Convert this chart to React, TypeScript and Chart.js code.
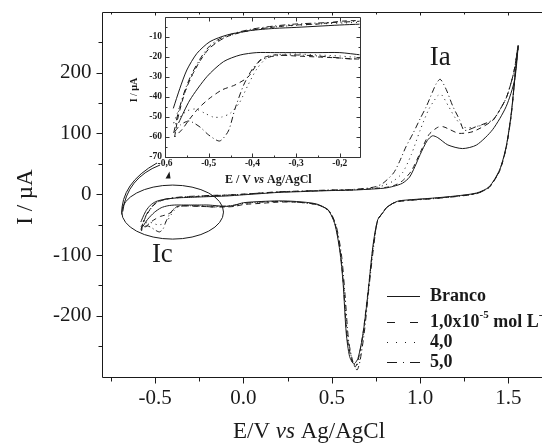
import React, { useEffect, useRef } from "react";
import { Chart, registerables } from "chart.js";
Chart.register(...registerables);

const FONT = "'Liberation Serif', 'Times New Roman', serif";
const INK = "#1a1a1a";

// ---------- main axes ----------
const X_MIN = -0.803;
const X_MAX = 1.69;
const Y_MIN = -300;
const Y_MAX = 300;
const X_TICKS = [-0.5, 0, 0.5, 1.0, 1.5];
const X_MINOR = [-0.75, -0.25, 0.25, 0.75, 1.25];
const Y_TICKS = [-200, -100, 0, 100, 200];
const Y_MINOR = [-250, -150, -50, 50, 150, 250];

// ---------- inset axes ----------
const IN_X_MIN = -0.6;
const IN_X_MAX = -0.155;
const IN_Y_MIN = -70;
const IN_Y_MAX = 0;
const IN_X_TICKS = [-0.6, -0.5, -0.4, -0.3, -0.2];
const IN_X_MINOR = [-0.55, -0.45, -0.35, -0.25];
const IN_Y_TICKS = [-70, -60, -50, -40, -30, -20, -10];
const IN_Y_MINOR = [-65, -55, -45, -35, -25, -15, -5];

// ---------- series (E / V, I / uA) ----------
// Branco
const BRANCO_FWD_E = [-0.581, -0.566, -0.55, -0.527, -0.497, -0.458, -0.405, -0.35, -0.3, -0.25, -0.2, -0.1, 0, 0.1, 0.2, 0.3, 0.4, 0.5, 0.6, 0.7, 0.8, 0.85, 0.9, 0.94, 0.97, 1.0, 1.04, 1.07, 1.1, 1.157, 1.24, 1.32, 1.41, 1.487, 1.535, 1.555];
const BRANCO_FWD_I = [-45.7, -35.7, -26.5, -18.2, -12.3, -9, -6.8, -5.7, -5.2, -4.6, -4, -3, -1, 1, 3, 4, 5, 6, 6.5, 8, 10, 13, 18, 28, 45, 65, 88, 96, 93, 81, 75, 81, 106, 144, 188, 243];
const BRANCO_REV_E = [1.544, 1.516, 1.487, 1.45, 1.39, 1.32, 1.2, 1.07, 0.95, 0.88, 0.846, 0.81, 0.79, 0.76, 0.733, 0.705, 0.677, 0.648, 0.625, 0.601, 0.582, 0.564, 0.545, 0.516, 0.479, 0.413, 0.3, 0.2, 0.1, 0, -0.05, -0.1, -0.15, -0.2, -0.25, -0.3, -0.35, -0.39, -0.428, -0.466, -0.504, -0.543, -0.569];
const BRANCO_REV_I = [215, 133, 78, 40, 12, 2, -3, -6.5, -9, -11, -15, -22, -30, -42, -85, -163, -229, -270, -279, -267, -229, -146, -92, -48, -26, -16, -12, -11, -12, -14, -18, -20, -19, -17.8, -17.8, -17.8, -17.8, -17.8, -19, -22.3, -29.8, -41.5, -53];

// 1,0x10^-5 mol L^-1
const C10_FWD_E = [-0.578, -0.57, -0.555, -0.54, -0.52, -0.5, -0.48, -0.46, -0.44, -0.4, -0.35, -0.3, -0.25, -0.19, -0.1, 0, 0.1, 0.2, 0.3, 0.4, 0.5, 0.6, 0.7, 0.8, 0.85, 0.9, 0.95, 1.0, 1.05, 1.1, 1.13, 1.17, 1.22, 1.3, 1.41, 1.45, 1.49, 1.53, 1.555];
const C10_FWD_I = [-60, -50, -38, -30, -22, -16, -12.5, -10, -8.5, -6.5, -5, -4, -3.5, -2, -1.5, 0, 2, 3.5, 4.5, 5.5, 6.5, 7, 8.5, 11, 14, 22, 38, 68, 98, 110, 111, 106, 100, 103, 121, 138, 160, 200, 245];
const C10_REV_E = [1.544, 1.516, 1.487, 1.45, 1.39, 1.32, 1.2, 1.07, 0.95, 0.88, 0.846, 0.81, 0.79, 0.76, 0.733, 0.705, 0.677, 0.65, 0.632, 0.61, 0.585, 0.566, 0.547, 0.518, 0.48, 0.413, 0.3, 0.2, 0.1, 0, -0.05, -0.1, -0.16, -0.2, -0.25, -0.3, -0.35, -0.38, -0.41, -0.44, -0.47, -0.5, -0.525, -0.547, -0.56, -0.578];
const C10_REV_I = [215, 130, 76, 38, 11, 1.5, -3.5, -7, -9.5, -11.5, -15, -22, -30, -43, -88, -160, -228, -272, -284, -270, -230, -148, -92, -48, -26, -17, -13, -13, -15, -17, -20, -21, -21, -20.5, -20, -19.5, -19, -21, -30, -34, -36.5, -41, -46, -52, -56, -60];

// 4,0
const C40_FWD_E = [-0.58, -0.565, -0.55, -0.535, -0.52, -0.5, -0.48, -0.46, -0.44, -0.4, -0.35, -0.3, -0.25, -0.19, -0.1, 0, 0.1, 0.2, 0.3, 0.4, 0.5, 0.6, 0.7, 0.75, 0.8, 0.85, 0.9, 0.95, 1.0, 1.05, 1.1, 1.12, 1.16, 1.2, 1.25, 1.32, 1.41, 1.45, 1.49, 1.53, 1.555];
const C40_FWD_I = [-53, -44, -35, -28, -22, -16, -12, -10, -8.5, -6.5, -5, -4.2, -3.5, -3, -2, -0.5, 1.5, 3.5, 4.5, 5.5, 6.5, 7, 9, 11, 15, 22, 35, 65, 105, 140, 162, 164, 145, 125, 110, 111, 121, 138, 160, 200, 242];
const C40_REV_E = [1.544, 1.516, 1.487, 1.45, 1.39, 1.32, 1.2, 1.07, 0.95, 0.88, 0.846, 0.81, 0.79, 0.76, 0.735, 0.707, 0.68, 0.655, 0.637, 0.615, 0.59, 0.57, 0.55, 0.52, 0.48, 0.413, 0.3, 0.2, 0.1, 0, -0.05, -0.1, -0.17, -0.2, -0.25, -0.3, -0.35, -0.37, -0.39, -0.41, -0.43, -0.45, -0.47, -0.49, -0.51, -0.53, -0.55, -0.57, -0.58];
const C40_REV_I = [213, 131, 77, 39, 11.5, 1.5, -3.5, -7, -9.5, -11.5, -15, -22, -30, -42, -86, -158, -226, -272, -283, -272, -235, -160, -98, -50, -27, -17, -13, -12, -13, -15, -19, -20, -20, -19.5, -19, -18.5, -19, -21, -26, -34, -43, -48, -50, -50, -48, -46, -47, -51, -53];

// 5,0
const C50_FWD_E = [-0.58, -0.57, -0.555, -0.54, -0.52, -0.5, -0.48, -0.46, -0.44, -0.4, -0.35, -0.3, -0.25, -0.19, -0.1, 0, 0.1, 0.2, 0.3, 0.4, 0.5, 0.6, 0.7, 0.75, 0.79, 0.85, 0.884, 0.92, 0.96, 1.0, 1.035, 1.07, 1.092, 1.114, 1.148, 1.186, 1.224, 1.25, 1.318, 1.41, 1.45, 1.49, 1.53, 1.555];
const C50_FWD_I = [-58, -48, -37, -29, -21, -15, -11.5, -9.5, -8, -6, -4.5, -3.5, -3, -2.5, -1.5, 0, 2, 4, 5, 6, 7, 7.5, 10, 12.5, 18, 35, 54, 78, 100, 124, 144, 168, 182, 189, 172, 144, 122, 105, 111, 122, 138, 160, 200, 244];
const C50_REV_E = [1.544, 1.516, 1.487, 1.45, 1.39, 1.32, 1.2, 1.07, 0.95, 0.88, 0.846, 0.81, 0.79, 0.76, 0.738, 0.71, 0.685, 0.66, 0.643, 0.62, 0.595, 0.575, 0.555, 0.525, 0.485, 0.413, 0.3, 0.2, 0.1, 0, -0.05, -0.1, -0.17, -0.2, -0.25, -0.3, -0.35, -0.38, -0.4, -0.42, -0.44, -0.455, -0.475, -0.5, -0.52, -0.545, -0.565, -0.58];
const C50_REV_I = [214, 132, 77, 39, 11, 1, -4, -7.5, -10, -12, -15.5, -22, -30, -42, -84, -155, -225, -274, -289, -276, -240, -165, -100, -52, -27, -17, -13, -12, -13, -15, -18, -19.5, -21, -20.5, -19.5, -19, -19.5, -21.5, -26, -34, -46, -57, -62, -59, -55, -52, -54, -58];

const LEGEND_LABELS = ["Branco", "1,0x10", "4,0", "5,0"];
const PEAK_LABELS = ["Ia", "Ic"];
const PEAK_LABEL_POS = [
  { x: 1.114, y: 224 },
  { x: -0.459, y: -100 },
];
const ELLIPSE = { cx: -0.401, cy: -29.4, rx: 0.288, ry: 44.4 };

const CURVE_DASH: number[][] = [[], [5, 4], [1, 4], [6, 3, 1, 3]];
const LEGEND_DASH: number[][] = [[], [8, 15], [1, 8], [10, 6, 1, 6]];

function pts(e1: number[], i1: number[], e2: number[], i2: number[]) {
  const out: { x: number; y: number }[] = [];
  const n1 = Math.min(e1.length, i1.length);
  for (let k = 0; k < n1; k++) out.push({ x: e1[k], y: i1[k] });
  const n2 = Math.min(e2.length, i2.length);
  for (let k = 0; k < n2; k++) out.push({ x: e2[k], y: i2[k] });
  return out;
}

function makeDatasets() {
  const series = [
    pts(BRANCO_FWD_E, BRANCO_FWD_I, BRANCO_REV_E, BRANCO_REV_I),
    pts(C10_FWD_E, C10_FWD_I, C10_REV_E, C10_REV_I),
    pts(C40_FWD_E, C40_FWD_I, C40_REV_E, C40_REV_I),
    pts(C50_FWD_E, C50_FWD_I, C50_REV_E, C50_REV_I),
  ];
  return series.map((data, k) => ({
    label: LEGEND_LABELS[k],
    data,
    showLine: true,
    borderColor: INK,
    borderWidth: 1,
    borderDash: CURVE_DASH[k],
    pointRadius: 0,
    tension: 0.25,
    fill: false,
  }));
}

const noPadX = (h: number) => (s: any) => {
  s.height = h;
  s.paddingLeft = 0;
  s.paddingRight = 0;
  s.paddingTop = 0;
  s.paddingBottom = 0;
};
const noPadY = (w: number) => (s: any) => {
  s.width = w;
  s.paddingLeft = 0;
  s.paddingRight = 0;
  s.paddingTop = 0;
  s.paddingBottom = 0;
};

const mainPlugin = {
  id: "mainDecor",
  afterDraw(chart: any) {
    const { ctx, chartArea: a, scales } = chart;
    const x = scales.x;
    const y = scales.y;
    ctx.save();
    ctx.strokeStyle = INK;
    ctx.fillStyle = INK;
    ctx.lineWidth = 1;
    ctx.setLineDash([]);
    const L = Math.round(a.left) + 0.5;
    const B = Math.round(a.bottom) + 0.5;
    const T = Math.round(a.top) + 0.5;
    ctx.beginPath();
    ctx.moveTo(L, T);
    ctx.lineTo(L, B);
    ctx.lineTo(a.right, B);
    ctx.moveTo(L, T);
    ctx.lineTo(a.right, T);
    X_TICKS.forEach((v) => {
      const p = Math.round(x.getPixelForValue(v)) + 0.5;
      ctx.moveTo(p, B);
      ctx.lineTo(p, B + 6);
      ctx.moveTo(p, T);
      ctx.lineTo(p, T + 3);
    });
    X_MINOR.forEach((v) => {
      const p = Math.round(x.getPixelForValue(v)) + 0.5;
      ctx.moveTo(p, B);
      ctx.lineTo(p, B + 4);
      ctx.moveTo(p, T);
      ctx.lineTo(p, T + 2);
    });
    Y_TICKS.forEach((v) => {
      const p = Math.round(y.getPixelForValue(v)) + 0.5;
      ctx.moveTo(L, p);
      ctx.lineTo(L - 6, p);
    });
    Y_MINOR.forEach((v) => {
      const p = Math.round(y.getPixelForValue(v)) + 0.5;
      ctx.moveTo(L, p);
      ctx.lineTo(L - 4, p);
    });
    ctx.stroke();

    // ellipse around Ic
    const cx = x.getPixelForValue(ELLIPSE.cx);
    const cy = y.getPixelForValue(ELLIPSE.cy);
    const rx = Math.abs(x.getPixelForValue(ELLIPSE.cx + ELLIPSE.rx) - cx);
    const ry = Math.abs(y.getPixelForValue(ELLIPSE.cy + ELLIPSE.ry) - cy);
    ctx.beginPath();
    ctx.ellipse(cx, cy, rx, ry, 0, 0, Math.PI * 2);
    ctx.stroke();
    // connectors to the inset
    const lx = cx - rx;
    ctx.beginPath();
    ctx.moveTo(lx, cy + 2.5);
    ctx.quadraticCurveTo(lx - 1, cy - 29, 157, 163);
    ctx.moveTo(lx + 1, cy - 0.5);
    ctx.quadraticCurveTo(lx + 5, cy - 34, 160, 165);
    ctx.stroke();
    ctx.beginPath();
    ctx.moveTo(165.5, 178.5);
    ctx.lineTo(170.5, 178.5);
    ctx.lineTo(169.5, 171.5);
    ctx.closePath();
    ctx.fill();

    // peak labels
    ctx.font = `27px ${FONT}`;
    ctx.textAlign = "center";
    ctx.textBaseline = "middle";
    PEAK_LABELS.forEach((t, k) => {
      ctx.fillText(t, x.getPixelForValue(PEAK_LABEL_POS[k].x), y.getPixelForValue(PEAK_LABEL_POS[k].y));
    });

    // axis titles
    ctx.font = `23px ${FONT}`;
    ctx.save();
    ctx.translate(26, 197);
    ctx.rotate(-Math.PI / 2);
    ctx.fillText("I / \u00b5A", 0, 0);
    ctx.restore();
    const p1 = "E/V ";
    const p2 = "vs";
    const p3 = " Ag/AgCl";
    ctx.font = `23px ${FONT}`;
    const w1 = ctx.measureText(p1).width;
    const w3 = ctx.measureText(p3).width;
    ctx.font = `italic 23px ${FONT}`;
    const w2 = ctx.measureText(p2).width;
    const sx = 309 - (w1 + w2 + w3) / 2;
    ctx.textAlign = "left";
    ctx.font = `23px ${FONT}`;
    ctx.fillText(p1, sx, 432);
    ctx.font = `italic 23px ${FONT}`;
    ctx.fillText(p2, sx + w1, 432);
    ctx.font = `23px ${FONT}`;
    ctx.fillText(p3, sx + w1 + w2, 432);

    // legend
    const rows = [296, 322, 342, 362];
    rows.forEach((ry0, k) => {
      ctx.setLineDash(LEGEND_DASH[k]);
      ctx.beginPath();
      ctx.moveTo(387, ry0 + 0.5);
      ctx.lineTo(420, ry0 + 0.5);
      ctx.stroke();
      ctx.setLineDash([]);
      ctx.font = `bold 18px ${FONT}`;
      ctx.textBaseline = "middle";
      ctx.fillText(LEGEND_LABELS[k], 430, ry0);
      if (k === 1) {
        let tx = 430 + ctx.measureText(LEGEND_LABELS[k]).width;
        ctx.font = `bold 11px ${FONT}`;
        ctx.fillText("-5", tx, ry0 - 7);
        tx += ctx.measureText("-5").width;
        ctx.font = `bold 18px ${FONT}`;
        ctx.fillText(" mol L", tx, ry0);
        tx += ctx.measureText(" mol L").width;
        ctx.font = `bold 11px ${FONT}`;
        ctx.fillText("-1", tx, ry0 - 7);
      }
    });
    ctx.restore();
  },
};

const insetPlugin = {
  id: "insetDecor",
  beforeDraw(chart: any) {
    const { ctx, chartArea: a } = chart;
    ctx.save();
    ctx.fillStyle = "#ffffff";
    ctx.fillRect(a.left, a.top, a.right - a.left, a.bottom - a.top);
    ctx.restore();
  },
  afterDraw(chart: any) {
    const { ctx, chartArea: a, scales } = chart;
    const x = scales.x;
    const y = scales.y;
    ctx.save();
    ctx.strokeStyle = "#333";
    ctx.fillStyle = INK;
    ctx.lineWidth = 1;
    ctx.setLineDash([]);
    const L = Math.round(a.left) + 0.5;
    const R = Math.round(a.right) + 0.5;
    const B = Math.round(a.bottom) + 0.5;
    const T = Math.round(a.top) + 0.5;
    ctx.beginPath();
    ctx.rect(L, T, R - L, B - T);
    IN_X_TICKS.forEach((v) => {
      const p = Math.round(x.getPixelForValue(v)) + 0.5;
      ctx.moveTo(p, B);
      ctx.lineTo(p, B - 4);
      ctx.moveTo(p, T);
      ctx.lineTo(p, T + 4);
    });
    IN_X_MINOR.forEach((v) => {
      const p = Math.round(x.getPixelForValue(v)) + 0.5;
      ctx.moveTo(p, B);
      ctx.lineTo(p, B - 2);
      ctx.moveTo(p, T);
      ctx.lineTo(p, T + 2);
    });
    IN_Y_TICKS.forEach((v) => {
      const p = Math.round(y.getPixelForValue(v)) + 0.5;
      ctx.moveTo(L, p);
      ctx.lineTo(L + 4, p);
      ctx.moveTo(R, p);
      ctx.lineTo(R - 4, p);
    });
    IN_Y_MINOR.forEach((v) => {
      const p = Math.round(y.getPixelForValue(v)) + 0.5;
      ctx.moveTo(L, p);
      ctx.lineTo(L + 2, p);
      ctx.moveTo(R, p);
      ctx.lineTo(R - 2, p);
    });
    ctx.stroke();

    ctx.textBaseline = "middle";
    ctx.textAlign = "center";
    ctx.font = `bold 10px ${FONT}`;
    ctx.save();
    ctx.translate(14.8, 90);
    ctx.rotate(-Math.PI / 2);
    ctx.fillText("I / \u00b5A", 0, 0);
    ctx.restore();

    const p1 = "E / V ";
    const p2 = "vs";
    const p3 = " Ag/AgCl";
    ctx.font = `bold 12px ${FONT}`;
    const w1 = ctx.measureText(p1).width;
    const w3 = ctx.measureText(p3).width;
    ctx.font = `italic bold 12px ${FONT}`;
    const w2 = ctx.measureText(p2).width;
    const sx = 148.3 - (w1 + w2 + w3) / 2;
    ctx.textAlign = "left";
    ctx.font = `bold 12px ${FONT}`;
    ctx.fillText(p1, sx, 180);
    ctx.font = `italic bold 12px ${FONT}`;
    ctx.fillText(p2, sx + w1, 180);
    ctx.font = `bold 12px ${FONT}`;
    ctx.fillText(p3, sx + w1 + w2, 180);
    ctx.restore();
  },
};

export default function App() {
  const mainRef = useRef<HTMLCanvasElement>(null);
  const insetRef = useRef<HTMLCanvasElement>(null);

  useEffect(() => {
    const main = new Chart(mainRef.current as HTMLCanvasElement, {
      type: "scatter",
      data: { datasets: makeDatasets() as any },
      options: {
        responsive: false,
        animation: false,
        events: [],
        layout: { padding: { left: 0, right: 0, top: 11.7, bottom: 0 } },
        plugins: { legend: { display: false }, tooltip: { enabled: false } },
        scales: {
          x: {
            type: "linear",
            min: X_MIN,
            max: X_MAX,
            afterBuildTicks: (s: any) => {
              s.ticks = X_TICKS.map((v) => ({ value: v }));
            },
            afterFit: noPadX(69.3),
            grid: { display: false, drawTicks: false },
            border: { display: false },
            ticks: {
              padding: 9,
              color: INK,
              autoSkip: false,
              maxRotation: 0,
              font: { family: FONT, size: 21 },
              callback: (v: any) => Number(v).toFixed(1),
            },
          },
          y: {
            type: "linear",
            min: Y_MIN,
            max: Y_MAX,
            afterBuildTicks: (s: any) => {
              s.ticks = Y_TICKS.map((v) => ({ value: v }));
            },
            afterFit: noPadY(101.6),
            grid: { display: false, drawTicks: false },
            border: { display: false },
            ticks: {
              padding: 10,
              color: INK,
              autoSkip: false,
              font: { family: FONT, size: 21 },
              callback: (v: any) => String(v),
            },
          },
        },
      },
      plugins: [mainPlugin],
    });

    const inset = new Chart(insetRef.current as HTMLCanvasElement, {
      type: "scatter",
      data: { datasets: makeDatasets() as any },
      options: {
        responsive: false,
        animation: false,
        events: [],
        layout: { padding: { left: 0, right: 10.5, top: 17, bottom: 0 } },
        plugins: { legend: { display: false }, tooltip: { enabled: false } },
        scales: {
          x: {
            type: "linear",
            min: IN_X_MIN,
            max: IN_X_MAX,
            afterBuildTicks: (s: any) => {
              s.ticks = IN_X_TICKS.map((v) => ({ value: v }));
            },
            afterFit: noPadX(33),
            grid: { display: false, drawTicks: false },
            border: { display: false },
            ticks: {
              padding: 1,
              color: INK,
              autoSkip: false,
              maxRotation: 0,
              font: { family: FONT, size: 9.5, weight: "bold" },
              callback: (v: any) => Number(v).toFixed(1).replace(".", ","),
            },
          },
          y: {
            type: "linear",
            min: IN_Y_MIN,
            max: IN_Y_MAX,
            afterBuildTicks: (s: any) => {
              s.ticks = IN_Y_TICKS.map((v) => ({ value: v }));
            },
            afterFit: noPadY(45),
            grid: { display: false, drawTicks: false },
            border: { display: false },
            ticks: {
              padding: 3,
              color: INK,
              autoSkip: false,
              font: { family: FONT, size: 9.5, weight: "bold" },
              callback: (v: any) => String(v),
            },
          },
        },
      },
      plugins: [insetPlugin],
    });

    return () => {
      main.destroy();
      inset.destroy();
    };
  }, []);

  return (
    <div style={{ position: "fixed", left: 0, top: 0, width: 542, height: 446, background: "#fff", overflow: "hidden" }}>
      <canvas ref={mainRef} width={542} height={446} style={{ position: "absolute", left: 0, top: 0 }} />
      <canvas ref={insetRef} width={250} height={190} style={{ position: "absolute", left: 120, top: 0 }} />
    </div>
  );
}
